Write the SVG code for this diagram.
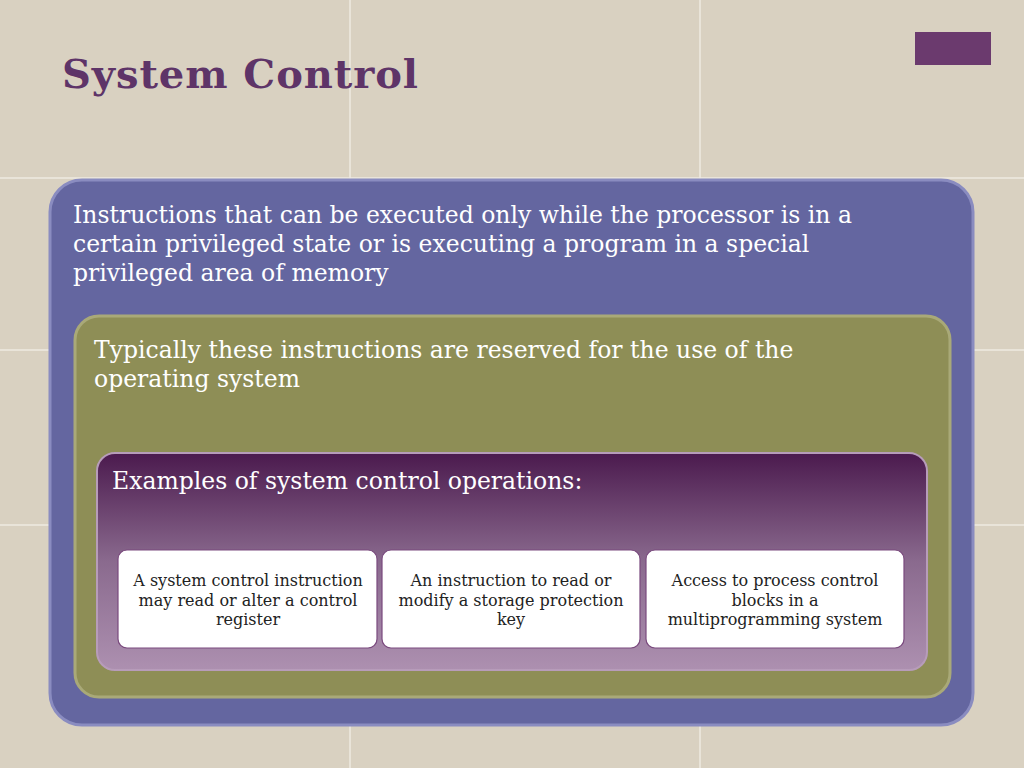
<svg xmlns="http://www.w3.org/2000/svg" width="1024" height="768" viewBox="0 0 1024 768">
<defs>
<linearGradient id="pg" x1="0" y1="0" x2="0" y2="1"><stop offset="0" stop-color="#4b1a4e"/><stop offset="0.5" stop-color="#8a6a8e"/><stop offset="1" stop-color="#ad90b0"/></linearGradient>
<style>
.t{font-family:"DejaVu Serif",serif;font-size:23.5px;fill:#fff}
.s{font-family:"DejaVu Serif",serif;font-size:16px;fill:#222;text-anchor:middle}
.g{stroke:#eeeae0;stroke-width:1.5}
.b{fill:#fff;stroke:#7a4a7e;stroke-width:1.2}
</style>
</defs>
<rect width="1024" height="768" fill="#d9d1c1"/>
<g class="g"><line x1="350" y1="0" x2="350" y2="768"/><line x1="700" y1="0" x2="700" y2="768"/><line x1="0" y1="178" x2="1024" y2="178"/><line x1="0" y1="350" x2="1024" y2="350"/><line x1="0" y1="525" x2="1024" y2="525"/></g>
<text x="62" y="88" font-family="DejaVu Serif,serif" font-size="40" font-weight="bold" fill="#5e3468" textLength="356">System Control</text>
<rect x="915" y="32" width="76" height="33" fill="#6b3a6e"/>
<g id="outer"><rect x="50" y="180" width="923" height="545" rx="32" fill="#6466a0" stroke="#8a8cc0" stroke-width="3"/>
<text class="t" x="73" y="223">Instructions that can be executed only while the processor is in a</text>
<text class="t" x="73" y="252">certain privileged state or is executing a program in a special</text>
<text class="t" x="73" y="281">privileged area of memory</text></g>
<g id="mid"><rect x="75" y="316" width="875" height="381" rx="24" fill="#8e8e56" stroke="#a9a978" stroke-width="3"/>
<text class="t" x="94" y="358">Typically these instructions are reserved for the use of the</text>
<text class="t" x="94" y="387">operating system</text></g>
<g id="inner"><rect x="97" y="453" width="830" height="217" rx="18" fill="url(#pg)" stroke="#b79cba" stroke-width="2"/>
<text class="t" x="112" y="489">Examples of system control operations:</text></g>
<g id="n1"><rect class="b" x="118" y="550" width="259" height="98" rx="9"/>
<text class="s" x="248" y="586">A system control instruction</text><text class="s" x="248" y="606">may read or alter a control</text><text class="s" x="248" y="625">register</text></g>
<g id="n2"><rect class="b" x="382" y="550" width="258" height="98" rx="9"/>
<text class="s" x="511" y="586">An instruction to read or</text><text class="s" x="511" y="606">modify a storage protection</text><text class="s" x="511" y="625">key</text></g>
<g id="n3"><rect class="b" x="646" y="550" width="258" height="98" rx="9"/>
<text class="s" x="775" y="586">Access to process control</text><text class="s" x="775" y="606">blocks in a</text><text class="s" x="775" y="625">multiprogramming system</text></g>
<g id="connectors"/>
</svg>
